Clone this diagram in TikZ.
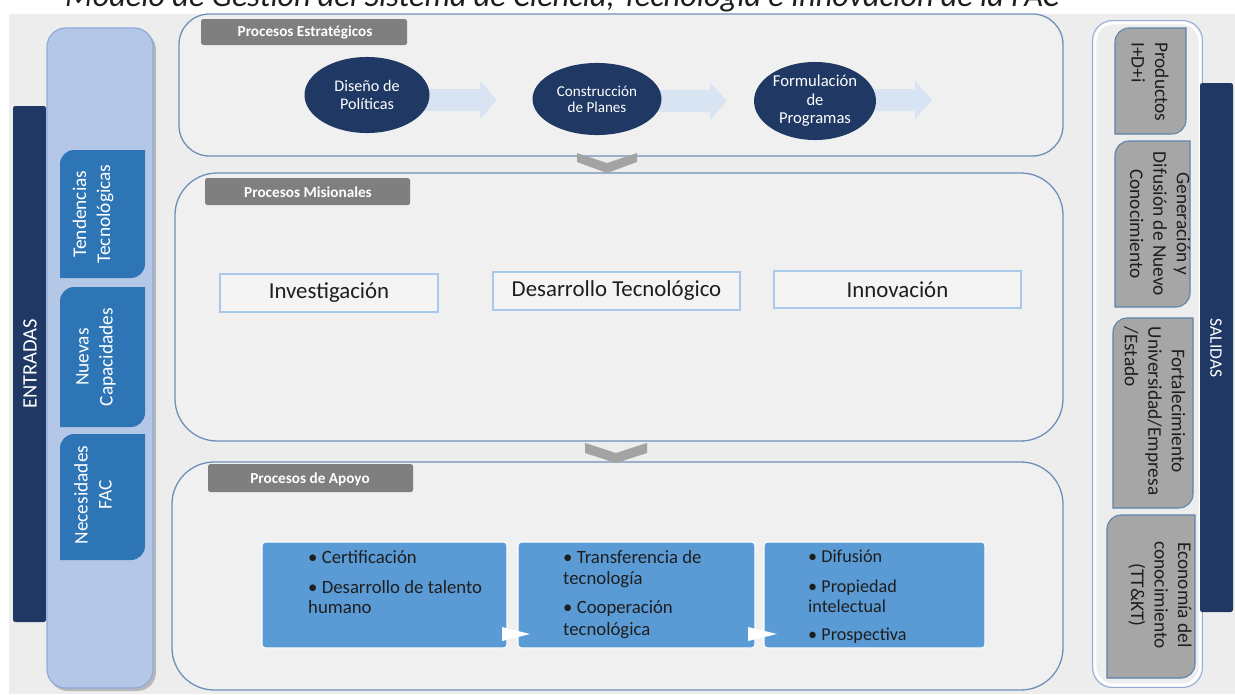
\documentclass[tikz,border=0pt]{standalone}
\usepackage{fontspec}
\setmainfont{Carlito}
\usetikzlibrary{shapes.geometric}
\definecolor{navy}{HTML}{1F3864}
\definecolor{bggray}{HTML}{EDEDED}
\definecolor{panelfill}{HTML}{F0F0F0}
\definecolor{panelline}{HTML}{6F8FBA}
\definecolor{lightpanel}{HTML}{B4C7E7}
\definecolor{lightpanelline}{HTML}{8EA9DB}
\definecolor{entblue}{HTML}{2E75B6}
\definecolor{apoyoblue}{HTML}{5B9BD5}
\definecolor{boxgray}{HTML}{A6A6A6}
\definecolor{grayline}{HTML}{5F82AE}
\definecolor{tabgray}{HTML}{7F7F7F}
\definecolor{arrowfill}{HTML}{D9E4F2}
\definecolor{chevgray}{HTML}{A3A3A3}
\definecolor{misline}{HTML}{A9C9EA}
\definecolor{misfill}{HTML}{F4F4F4}
\definecolor{darktext}{HTML}{1E1E1E}
\newcommand{\DiagRect}[5]{%
  \path[#1] (#2,{(#3+#5)/2}) [rounded corners=12pt] -- (#2,#3) [sharp corners] -- (#4,#3)
    [rounded corners=12pt] -- (#4,#5) [sharp corners] -- (#2,#5) -- cycle;}
\newcommand{\BlockArrow}[4]{%
  \fill[arrowfill] (#1,#4-11) -- (#3,#4-11) -- (#3,#4-19) -- (#2,#4) -- (#3,#4+19)
    -- (#3,#4+11) -- (#1,#4+11) -- cycle;}
\tikzset{
  panel/.style={draw=panelline, fill=panelfill, line width=1.1pt},
  tab/.style={fill=tabgray, rounded corners=1.5pt},
  tabtext/.style={text=white, font=\bfseries\fontsize{13}{15}\selectfont, inner sep=0pt},
  ell/.style={ellipse, fill=navy, text=white, inner sep=0pt, align=center},
  misbox/.style={draw=misline, fill=misfill, line width=0.9pt, text=darktext,
    font=\fontsize{19.5}{22}\selectfont, inner sep=0pt},
  apoyobox/.style={fill=apoyoblue, draw=white, line width=0.9pt, rounded corners=3pt},
  apoyotext/.style={anchor=north west, align=left, inner sep=0pt, text=darktext},
  enttext/.style={rotate=90, text=white, align=center, inner sep=0pt,
    font=\fontsize{16.5}{20.5}\selectfont},
  saltext/.style={rotate=-90, text=darktext, inner sep=0pt,
    font=\fontsize{16.5}{20}\selectfont},
  chev/.style={fill=chevgray},
}
\begin{document}
\begin{tikzpicture}[x=0.03cm,y=-0.03cm]
\useasboundingbox (0,0) rectangle (1235,694);
\clip (0,0) rectangle (1235,694);
\fill[white] (0,0) rectangle (1235,694);
\fill[bggray] (9,14) rectangle (1235,694);
% title (cut at top)
\node[anchor=base west, inner sep=0pt, text=darktext,
  font=\itshape\fontsize{27.5}{30}\selectfont] (title) at (65,6.5)
  {Modelo de Gestión del Sistema de Ciencia, Tecnología e Innovación de la FAC};

% ---------- ENTRADAS ----------
\fill[navy, rounded corners=2pt] (13,106) rectangle (46,622);
\node[rotate=90, text=white, inner sep=0pt, font=\fontsize{17.5}{20}\selectfont] (entradas) at (30,364) {ENTRADAS};
\fill[black!28, rounded corners=16pt] (49,31) rectangle (156,691);
\draw[draw=lightpanelline, fill=lightpanel, line width=1pt, rounded corners=16pt] (47,28) rectangle (153,688);
\DiagRect{fill=entblue}{60}{150}{145}{278}
\DiagRect{fill=entblue}{60}{287}{145}{427}
\DiagRect{fill=entblue}{60}{434}{145}{560}
\node[enttext] (e1) at (93,214) {Tendencias\\Tecnológicas};
\node[enttext] (e2) at (96,357) {Nuevas\\Capacidades};
\node[enttext] (e3) at (93,495) {Necesidades\\FAC};

% ---------- Procesos Estrategicos ----------
\draw[panel, rounded corners=26pt] (179,14) rectangle (1063,156);
\fill[tab] (201,19) rectangle (407,45);
\node[tabtext] (t1) at (305,32) {Procesos Estratégicos};
\BlockArrow{420}{497}{480}{100}
\BlockArrow{655}{727}{710}{101}
\BlockArrow{870}{932}{915}{100}
\node[ell, minimum width=106.7pt, minimum height=64.9pt,
  font=\fontsize{13.8}{15.4}\selectfont] (d1) at (367,95) {Diseño de\\Políticas};
\node[ell, minimum width=110.1pt, minimum height=61.5pt,
  font=\fontsize{12.9}{13.9}\selectfont] (d2) at (597,99) {Construcción\\de Planes};
\node[ell, minimum width=104.1pt, minimum height=66.6pt,
  font=\fontsize{14.2}{15.8}\selectfont] (d3) at (815,101) {Formulación\\de\\Programas};

% ---------- Procesos Misionales ----------
\draw[panel, rounded corners=36pt] (175,173) rectangle (1063,441);
\fill[tab] (205,178) rectangle (410,205);
\node[tabtext] (t2) at (308,192) {Procesos Misionales};
\node[misbox, minimum width=186.1pt, minimum height=32.4pt] (m1) at (329,293) {Investigación};
\node[misbox, minimum width=210.8pt, minimum height=32.4pt] (m2) at (616.5,291) {Desarrollo Tecnológico};
\node[misbox, minimum width=210.8pt, minimum height=31.6pt] (m3) at (897.5,289.5) {Innovación};

% ---------- Procesos de Apoyo ----------
\draw[panel, rounded corners=36pt] (172,462) rectangle (1063,690);
\fill[tab] (208,464) rectangle (413,492);
\node[tabtext] (t3) at (310,479) {Procesos de Apoyo};
\draw[apoyobox] (262,542) rectangle (507,648);
\draw[apoyobox] (518,542) rectangle (755,648);
\draw[apoyobox] (764,542) rectangle (985,648);
\fill[white] (502,627) -- (530,634) -- (502,641) -- cycle;
\fill[white] (748,627) -- (777,634) -- (748,641) -- cycle;
\node[apoyotext, font=\fontsize{16}{17}\selectfont] (a1) at (308,550)
  {• Certificación\\[8.6pt]• Desarrollo de talento\\humano};
\node[apoyotext, font=\fontsize{16}{18.3}\selectfont] (a2) at (563,550)
  {• Transferencia de\\tecnología\\[6.4pt]• Cooperación\\tecnológica};
\node[apoyotext, font=\fontsize{15.5}{16.6}\selectfont] (a3) at (808,550)
  {• Difusión\\[9pt]• Propiedad\\intelectual\\[7.2pt]• Prospectiva};

% chevrons
\path[chev] (577,153) -- (607,163) -- (637,153) -- (637,162) -- (607,173) -- (577,162) -- cycle;
\path[chev] (585,443) -- (616,453) -- (647,443) -- (647,453) -- (616,463) -- (585,453) -- cycle;

% ---------- SALIDAS ----------
\draw[white, line width=2.2pt, rounded corners=16pt] (1095,23) rectangle (1200,685);
\draw[lightpanelline, line width=0.8pt, rounded corners=17pt] (1092.5,20.5) rectangle (1202.5,687.5);
\fill[navy, rounded corners=2pt] (1200,83) rectangle (1233,612);
\node[rotate=-90, text=white, inner sep=0pt, font=\fontsize{15}{18}\selectfont] (salidas) at (1216,348) {SALIDAS};
\DiagRect{fill=boxgray, draw=grayline, line width=0.9pt}{1115}{28}{1186}{134}
\DiagRect{fill=boxgray, draw=grayline, line width=0.9pt}{1115}{141}{1190}{307}
\DiagRect{fill=boxgray, draw=grayline, line width=0.9pt}{1113}{318}{1193}{508}
\DiagRect{fill=boxgray, draw=grayline, line width=0.9pt}{1107}{515}{1195}{678}
\node[saltext, align=left, anchor=west] (s1) at (1150,42) {Productos\\I+D+i};
\node[saltext, align=center] (s2) at (1160,224) {Generación y\\Difusión de Nuevo\\Conocimiento};
\node[saltext] (s3) at (1153,411) {\begin{tabular}{@{}c@{}}Fortalecimiento\\Universidad/Empresa\\\multicolumn{1}{@{}l@{}}{/Estado}\end{tabular}};
\node[saltext, align=center] (s4) at (1160,595) {Economía del\\conocimiento\\(TT\&KT)};
\end{tikzpicture}
\end{document}
